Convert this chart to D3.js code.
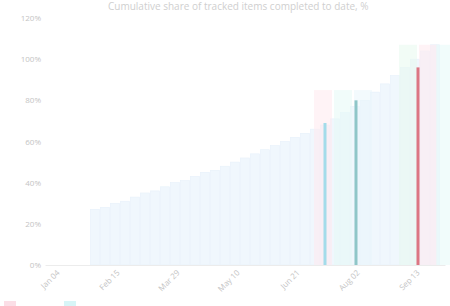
<!DOCTYPE html>
<html>
<head>
<meta charset="utf-8">
<script src="https://cdn.jsdelivr.net/npm/d3@7"></script>
<style>
  body { margin: 0; background: #fff; }
  text { font-family: "Open Sans", sans-serif; }
</style>
</head>
<body>
<div id="chart"></div>
<script>
// data
const tickDays = [1, 7, 13, 19, 25, 31, 37];
const tickLabels = ["Jan 04", "Feb 15", "Mar 29", "May 10", "Jun 21", "Aug 02", "Sep 13"];
const yTicks = [0, 20, 40, 60, 80, 100, 120];
const baseDays = [5, 6, 7, 8, 9, 10, 11, 12, 13, 14, 15, 16, 17, 18, 19, 20, 21, 22, 23, 24, 25, 26, 27, 28, 29, 30, 31, 32, 33, 34, 35, 36, 37, 38, 39];
const baseValues = [27, 28, 30, 31, 33, 35, 36, 38, 40, 41, 43, 45, 46, 48, 50, 52, 54, 56, 58, 60, 62, 64, 66, 68, 71, 74, 77, 80, 84, 88, 92, 96, 100, 104, 107];
const highlightDays = [28, 31.1, 37.3];
const highlightValues = [69, 80, 96];
const highlightColors = ["#a3dcea", "#8fc6c8", "#dc7683"];
const pastelDays = [27.8, 29.8, 31.8, 36.3, 38.3, 40];
const pastelValues = [85, 85, 85, 107, 107, 107];
const pastelColors = ["#ffe9ee", "#e6f9f6", "#eaf6fc", "#e8f9ee", "#ffeaef", "#e6faf8"];
const legendColors = ["#f9c8d5", "#bdeef2"];

const width = 450, height = 306;
const margin = {left: 45, right: 5, top: 18, bottom: 41};

const svg = d3.select("#chart").append("svg")
  .attr("width", width)
  .attr("height", height);

const x = d3.scaleLinear().domain([0, 40]).range([margin.left, width - margin.right]);
const y = d3.scaleLinear().domain([0, 120]).range([height - margin.bottom, margin.top]);

// title
svg.append("text")
  .attr("x", 108)
  .attr("y", 10)
  .attr("font-size", 10)
  .attr("fill", "#cfcfcf")
  .text("Cumulative share of tracked items completed to date, %");

// y axis
const yAxis = svg.append("g")
  .attr("transform", `translate(${margin.left},0)`)
  .call(d3.axisLeft(y).tickValues(yTicks).tickFormat(d => d + "%").tickSize(0).tickPadding(4));
yAxis.select(".domain").remove();
yAxis.selectAll("text").attr("fill", "#c4c4c4").attr("font-size", 8);

// base bars
svg.append("g").selectAll("rect")
  .data(baseDays)
  .join("rect")
  .attr("x", d => x(d) - 4.5)
  .attr("width", 9)
  .attr("y", (d, i) => y(baseValues[i]))
  .attr("height", (d, i) => y(0) - y(baseValues[i]))
  .attr("fill", "#f0f7fd")
  .attr("stroke", "#e7f1fa")
  .attr("stroke-width", 0.6);

// pastel columns
svg.append("g").selectAll("rect")
  .data(pastelDays)
  .join("rect")
  .attr("x", d => x(d) - 9)
  .attr("width", 18)
  .attr("y", (d, i) => y(pastelValues[i]))
  .attr("height", (d, i) => y(0) - y(pastelValues[i]))
  .attr("fill", (d, i) => pastelColors[i])
  .attr("opacity", 0.55);

// highlighted bars
svg.append("g").selectAll("rect")
  .data(highlightDays)
  .join("rect")
  .attr("x", d => x(d) - 1.5)
  .attr("width", 3)
  .attr("y", (d, i) => y(highlightValues[i]))
  .attr("height", (d, i) => y(0) - y(highlightValues[i]))
  .attr("fill", (d, i) => highlightColors[i]);

// x axis
const xAxis = svg.append("g")
  .attr("transform", `translate(0,${y(0)})`)
  .call(d3.axisBottom(x).tickValues(tickDays).tickFormat((d, i) => tickLabels[i]).tickSize(0).tickPadding(6));
xAxis.select(".domain").attr("stroke", "#ececec");
xAxis.selectAll("text")
  .attr("fill", "#c4c4c4")
  .attr("font-size", 8)
  .attr("text-anchor", "end")
  .attr("transform", "rotate(-45)")
  .attr("dx", "-0.3em")
  .attr("dy", "0.4em");

// legend swatches (cut off at bottom)
svg.append("g").selectAll("rect")
  .data(legendColors)
  .join("rect")
  .attr("x", (d, i) => 4 + i * 60)
  .attr("y", 301)
  .attr("width", 12)
  .attr("height", 8)
  .attr("fill", d => d)
  .attr("opacity", 0.6);
</script>
</body>
</html>
